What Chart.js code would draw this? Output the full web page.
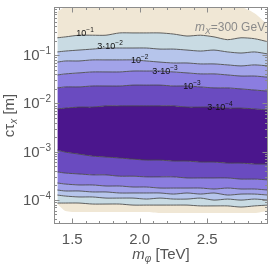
<!DOCTYPE html>
<html>
<head>
<meta charset="utf-8">
<script src="https://cdn.jsdelivr.net/npm/chart.js@4/dist/chart.umd.min.js"></script>
<style>
  html, body { margin: 0; padding: 0; background: #fff; }
  #wrap { width: 274px; height: 270px; position: relative; }
</style>
</head>
<body>
<div id="wrap"><canvas id="chart"></canvas></div>
<script>
// m_phi grid [TeV]
const mPhi = [1.39, 1.45, 1.55, 1.65, 1.75, 1.85, 1.95, 2.05, 2.15, 2.25, 2.35, 2.45, 2.55, 2.65, 2.75, 2.85, 2.95];

// contour boundaries (c tau in m), upper side: outer edge then 1e-1, 3e-2, 1e-2, 3e-3, 1e-3, 3e-4
const upperEdge = [0.8, 1, 1, 1, 1, 1, 1, 1, 1, 1, 1, 1, 1, 1, 1, 0.74, 0.42];
const upper1e1 = [0.23, 0.24, 0.26, 0.26, 0.26, 0.29, 0.29, 0.29, 0.29, 0.275, 0.25, 0.26, 0.24, 0.21, 0.23, 0.22, 0.19];
const upper3e2 = [0.117, 0.122, 0.128, 0.134, 0.141, 0.141, 0.141, 0.141, 0.134, 0.134, 0.128, 0.122, 0.128, 0.117, 0.111, 0.117, 0.106];
const upper1e2 = [0.072, 0.076, 0.076, 0.08, 0.08, 0.08, 0.08, 0.076, 0.072, 0.069, 0.069, 0.066, 0.066, 0.063, 0.06, 0.063, 0.06];
const upper3e3 = [0.039, 0.041, 0.043, 0.045, 0.045, 0.045, 0.047, 0.047, 0.047, 0.045, 0.043, 0.041, 0.041, 0.039, 0.037, 0.037, 0.035];
const upper1e3 = [0.021, 0.022, 0.022, 0.023, 0.023, 0.023, 0.024, 0.024, 0.024, 0.023, 0.023, 0.022, 0.021, 0.021, 0.02, 0.019, 0.018];
const upper3e4 = [0.0077, 0.008, 0.0084, 0.0084, 0.0089, 0.0089, 0.0089, 0.0089, 0.0089, 0.0089, 0.0084, 0.0084, 0.0084, 0.008, 0.008, 0.0077, 0.0073];

// lower side: 3e-4, 1e-3, 3e-3, 1e-2, 3e-2, 1e-1, outer edge
const lower3e4 = [1.08e-3, 9.8e-4, 8.9e-4, 8.1e-4, 7.75e-4, 7.4e-4, 7.0e-4, 6.7e-4, 6.7e-4, 6.4e-4, 6.4e-4, 6.1e-4, 6.1e-4, 5.8e-4, 5.8e-4, 5.55e-4, 5.55e-4];
const lower1e3 = [3.8e-4, 3.6e-4, 3.45e-4, 3.3e-4, 3.3e-4, 3.1e-4, 3.1e-4, 3.0e-4, 3.0e-4, 3.0e-4, 2.85e-4, 2.85e-4, 2.85e-4, 2.85e-4, 2.7e-4, 2.7e-4, 2.6e-4];
const lower3e3 = [2.24e-4, 2.13e-4, 2.04e-4, 2.04e-4, 1.94e-4, 1.94e-4, 1.85e-4, 1.85e-4, 1.76e-4, 1.76e-4, 1.76e-4, 1.76e-4, 1.68e-4, 1.76e-4, 1.68e-4, 1.68e-4, 1.6e-4];
const lower1e2 = [1.6e-4, 1.53e-4, 1.53e-4, 1.46e-4, 1.46e-4, 1.39e-4, 1.39e-4, 1.39e-4, 1.39e-4, 1.32e-4, 1.39e-4, 1.32e-4, 1.39e-4, 1.26e-4, 1.32e-4, 1.32e-4, 1.26e-4];
const lower3e2 = [1.26e-4, 1.2e-4, 1.15e-4, 1.15e-4, 1.09e-4, 1.09e-4, 1.09e-4, 1.04e-4, 1.09e-4, 1.04e-4, 1.04e-4, 1.09e-4, 9.9e-5, 1.04e-4, 9.9e-5, 1.04e-4, 9.9e-5];
const lower1e1 = [8.6e-5, 8.6e-5, 8.6e-5, 8.2e-5, 8.2e-5, 8.2e-5, 7.8e-5, 7.8e-5, 7.8e-5, 7.8e-5, 7.8e-5, 7.5e-5, 7.5e-5, 7.5e-5, 7.1e-5, 7.5e-5, 7.8e-5];
const lowerEdge = [8.2e-5, 5.9e-5, 5.6e-5, 5.6e-5, 5.6e-5, 5.6e-5, 5.6e-5, 5.6e-5, 5.35e-5, 5.35e-5, 5.35e-5, 5.35e-5, 5.35e-5, 5.35e-5, 5.35e-5, 5.35e-5, 5.9e-5];

// band colours, outermost to innermost
const bandColors = ["#f0e7d5", "#c9dbe3", "#b6c5eb", "#a2a3e9", "#8b7de0", "#6a4bc0", "#4b168d"];

// axis ticks
const xTicks = [1.5, 2.0, 2.5];
const yTicks = [1e-4, 1e-3, 1e-2, 1e-1];
const yTickExp = ["\u22124", "\u22123", "\u22122", "\u22121"];

// contour labels [m_phi, c tau, prefix, exponent]
const contourLabels = [
  [1.595, 0.29, "", "\u22121"],
  [1.78, 0.155, "3\u00b7", "\u22122"],
  [2.0, 0.08, "", "\u22122"],
  [2.187, 0.047, "3\u00b7", "\u22123"],
  [2.387, 0.023, "", "\u22123"],
  [2.594, 0.0084, "3\u00b7", "\u22124"],
];

const FONT = "'Liberation Sans', Arial, sans-serif";
const lineColor = "rgba(70,70,70,0.85)";

function toPoints(arr) {
  return mPhi.map((m, i) => ({ x: m, y: arr[i] }));
}

const boundaries = [upperEdge, upper1e1, upper3e2, upper1e2, upper3e3, upper1e3, upper3e4,
  lower3e4, lower1e3, lower3e3, lower1e2, lower3e2, lower1e1, lowerEdge];
const fills = [null, 0, 1, 2, 3, 4, 5, 6, 5, 4, 3, 2, 1, 0];

const datasets = boundaries.map((arr, i) => {
  const outer = i === 0 || i === boundaries.length - 1;
  return {
    data: toPoints(arr),
    borderColor: outer ? "rgba(0,0,0,0)" : lineColor,
    borderWidth: 1,
    backgroundColor: fills[i] === null ? "rgba(0,0,0,0)" : bandColors[fills[i]],
    fill: fills[i] === null ? false : "-1",
    pointRadius: 0,
    tension: 0.25,
  };
});

// draw text made of pieces (normal, sup, sub, italic)
function drawPieces(ctx, pieces, x, y, align) {
  let w = 0;
  pieces.forEach((p) => {
    ctx.font = p.font;
    p.w = ctx.measureText(p.t).width;
    w += p.w;
  });
  let cx = align === "right" ? x - w : align === "center" ? x - w / 2 : x;
  ctx.textAlign = "left";
  ctx.textBaseline = "alphabetic";
  pieces.forEach((p) => {
    ctx.font = p.font;
    ctx.fillText(p.t, cx, y + (p.dy || 0));
    cx += p.w;
  });
}

const framePlugin = {
  id: "frame",
  afterDatasetsDraw(chart) {
    const ctx = chart.ctx;
    const xs = chart.scales.x;
    const ys = chart.scales.y;

    // contour labels
    ctx.save();
    ctx.fillStyle = "#111";
    contourLabels.forEach(([m, v, pre, exp]) => {
      const px = xs.getPixelForValue(m);
      const py = ys.getPixelForValue(v);
      drawPieces(ctx, [
        { t: pre + "10", font: "9px " + FONT },
        { t: exp, font: "6.5px " + FONT, dy: -4 },
      ], px, py + 3, "center");
    });

    // mass annotation
    ctx.fillStyle = "#8a8a8a";
    drawPieces(ctx, [
      { t: "m", font: "italic 12px " + FONT },
      { t: "X", font: "italic 8.5px " + FONT, dy: 3 },
      { t: "=300 GeV", font: "12px " + FONT },
    ], xs.getPixelForValue(2.41), ys.getPixelForValue(0.32), "left");
    ctx.restore();
  },
  afterDraw(chart) {
    const ctx = chart.ctx;
    const xs = chart.scales.x;
    const ys = chart.scales.y;
    const a = chart.chartArea;
    const L = Math.round(a.left) + 0.5;
    const R = Math.round(a.right) - 0.5;
    const T = Math.round(a.top) + 0.5;
    const B = Math.round(a.bottom) - 0.5;

    ctx.save();
    ctx.strokeStyle = "#8c8c8c";
    ctx.lineWidth = 1;
    ctx.strokeRect(L, T, R - L, B - T);

    // x ticks, inward on bottom and top
    ctx.beginPath();
    for (let k = 14; k <= 29; k++) {
      const v = k / 10;
      const major = k % 5 === 0;
      const len = major ? 5 : 2.5;
      const px = Math.round(xs.getPixelForValue(v)) + 0.5;
      ctx.moveTo(px, B); ctx.lineTo(px, B - len);
      ctx.moveTo(px, T); ctx.lineTo(px, T + len);
    }
    // y ticks, log
    for (let e = -5; e <= 0; e++) {
      for (let k = 1; k <= 9; k++) {
        const v = k * Math.pow(10, e);
        if (v < ys.min * 0.999 || v > ys.max * 1.001) continue;
        const len = k === 1 ? 5 : 2.5;
        const py = Math.round(ys.getPixelForValue(v)) + 0.5;
        ctx.moveTo(L, py); ctx.lineTo(L + len, py);
        ctx.moveTo(R, py); ctx.lineTo(R - len, py);
      }
    }
    ctx.stroke();

    // tick labels
    ctx.fillStyle = "#555";
    ctx.textAlign = "center";
    ctx.textBaseline = "alphabetic";
    ctx.font = "15px " + FONT;
    xTicks.forEach((v) => {
      ctx.fillText(v.toFixed(1), xs.getPixelForValue(v), a.bottom + 20);
    });
    yTicks.forEach((v, i) => {
      const py = ys.getPixelForValue(v);
      drawPieces(ctx, [
        { t: "10", font: "15px " + FONT },
        { t: yTickExp[i], font: "10px " + FONT, dy: -6 },
      ], a.left - 3, py + 5, "right");
    });

    // axis titles
    drawPieces(ctx, [
      { t: "m", font: "italic 15px " + FONT },
      { t: "\u03c6", font: "italic 10px " + FONT, dy: 3 },
      { t: " [TeV]", font: "15px " + FONT },
    ], (a.left + a.right) / 2, a.bottom + 35, "center");

    ctx.translate(14, (a.top + a.bottom) / 2);
    ctx.rotate(-Math.PI / 2);
    drawPieces(ctx, [
      { t: "c\u03c4", font: "15px " + FONT },
      { t: "x", font: "italic 10px " + FONT, dy: 3 },
      { t: " [m]", font: "15px " + FONT },
    ], 0, 0, "center");
    ctx.restore();
  },
};

new Chart(document.getElementById("chart"), {
  type: "line",
  data: { datasets },
  options: {
    responsive: true,
    maintainAspectRatio: false,
    animation: false,
    layout: { padding: { left: 54, top: 7, right: 6, bottom: 46 } },
    plugins: { legend: { display: false }, tooltip: { enabled: false } },
    scales: {
      x: { type: "linear", min: 1.365, max: 2.95, display: false },
      y: { type: "logarithmic", min: 3.1623e-5, max: 1, display: false },
    },
  },
  plugins: [framePlugin],
});
</script>
</body>
</html>
